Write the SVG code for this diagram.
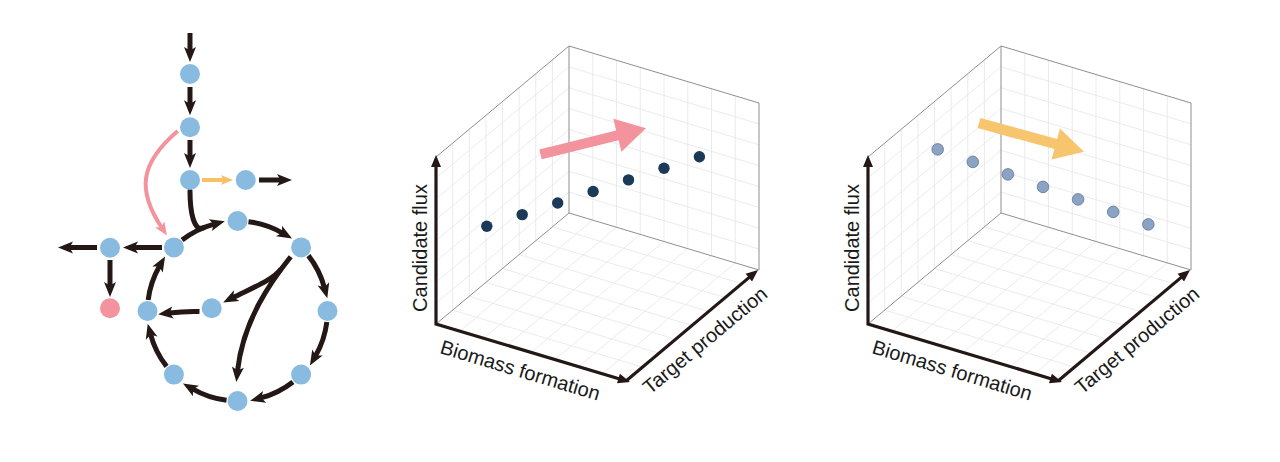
<svg xmlns="http://www.w3.org/2000/svg" xmlns:xlink="http://www.w3.org/1999/xlink" width="1280" height="462" viewBox="0 0 1280 462">
<style>
.node{fill:#88bbdf}
.pnode{fill:#f3939d}
.edge{fill:none;stroke:#231815;stroke-width:5;stroke-linecap:butt;marker-end:url(#ah)}
.oedge{fill:none;stroke:#f8c167;stroke-width:4;marker-end:url(#aho)}
.pedge{fill:none;stroke:#f3939d;stroke-width:4;marker-end:url(#ahp)}
.grid{fill:none;stroke:#e6e6e6;stroke-width:0.8}
.box{fill:none;stroke:#8f8f8f;stroke-width:1}
.axis{fill:none;stroke:#231815;stroke-width:3.2;stroke-linejoin:miter}
.lbl{font-family:"Liberation Sans",Arial,sans-serif;font-size:20px;fill:#1a1a1a}
.dd{fill:#1b3a57}
.ld{fill:#8ca4c4;stroke:#5f7596;stroke-width:0.8}
</style>
<defs>
<marker id="ah" markerUnits="userSpaceOnUse" markerWidth="15" markerHeight="12" refX="4" refY="6" orient="auto" overflow="visible"><path d="M0,0 L15,6 L0,12 L3.5,6 z" fill="#231815"/></marker>
<marker id="aho" markerUnits="userSpaceOnUse" markerWidth="12" markerHeight="10" refX="3" refY="5" orient="auto" overflow="visible"><path d="M0,0 L12,5 L0,10 L2.5,5 z" fill="#f8c167"/></marker>
<marker id="ahp" markerUnits="userSpaceOnUse" markerWidth="13" markerHeight="11" refX="3.5" refY="5.5" orient="auto" overflow="visible"><path d="M0,0 L13,5.5 L0,11 L3,5.5 z" fill="#f3939d"/></marker>
<marker id="axh" markerUnits="userSpaceOnUse" markerWidth="12" markerHeight="10" refX="4" refY="5" orient="auto-start-reverse" overflow="visible"><path d="M0,0 L12,5 L0,10 z" fill="#231815"/></marker>
<g id="plotbase">
<path class="grid" d="M592.75,220.125V53.125 M616.5,227.25V60.25 M640.25,234.375V67.375 M664,241.5V74.5 M687.75,248.625V81.625 M711.5,255.75V88.75 M735.25,262.875V95.875 M569,192.125L759,249.125 M569,171.25L759,228.25 M569,150.375L759,207.375 M569,129.5L759,186.5 M569,108.625L759,165.625 M569,87.75L759,144.75 M569,66.875L759,123.875 M452.625,310.125V143.125 M469.25,296.25V129.25 M485.875,282.375V115.375 M502.5,268.5V101.5 M519.125,254.625V87.625 M535.75,240.75V73.75 M552.375,226.875V59.875 M436,303.125L569,192.125 M436,282.25L569,171.25 M436,261.375L569,150.375 M436,240.5L569,129.5 M436,219.625L569,108.625 M436,198.75L569,87.75 M436,177.875L569,66.875 M459.75,331.125L592.75,220.125 M483.5,338.25L616.5,227.25 M507.25,345.375L640.25,234.375 M531,352.5L664,241.5 M554.75,359.625L687.75,248.625 M578.5,366.75L711.5,255.75 M602.25,373.875L735.25,262.875 M452.625,310.125L642.625,367.125 M469.25,296.25L659.25,353.25 M485.875,282.375L675.875,339.375 M502.5,268.5L692.5,325.5 M519.125,254.625L709.125,311.625 M535.75,240.75L725.75,297.75 M552.375,226.875L742.375,283.875"/>
<path class="box" d="M569,46V213 M436,324L569,213L759,270V103 M436,157L569,46L759,103"/>
<path class="axis" d="M436,163 L436,324 L622.3,379.7" marker-start="url(#axh)" marker-end="url(#axh)"/>
<path class="axis" d="M626,381 L751.9,275.1" marker-end="url(#axh)"/>
<text class="lbl" transform="translate(426.5,248) rotate(-90)" text-anchor="middle">Candidate flux</text>
<text class="lbl" transform="translate(439,353) rotate(16.7)">Biomass formation</text>
<text class="lbl" transform="translate(650,395) rotate(-39.8)">Target production</text>
</g>
</defs>

<g id="network">
<g id="connectors">
<path class="edge" d="M190,33 L190,51"/>
<path class="edge" d="M190,87 L190,104.3"/>
<path class="edge" d="M190,140 L190,157"/>
<path class="oedge" d="M202,180 L224,180"/>
<path class="edge" d="M259,180 L281,180"/>
<path class="pedge" d="M177.7,131 C139.7,163.5 136.95,190.2 161.7,227.5"/>
<path class="edge" style="marker-end:none;stroke-linecap:round" d="M190,191 C190,212 193.9,231.7 203.1,227.9"/>
<path class="edge" d="M182.09,240.08 A90,90 0 0 1 214.21,224.07"/>
<path class="edge" d="M248.47,221.67 A90,90 0 0 1 282.5,233.06"/>
<path class="edge" d="M308.42,255.59 A90,90 0 0 1 324.43,287.71"/>
<path class="edge" d="M326.83,321.97 A90,90 0 0 1 315.44,356"/>
<path class="edge" d="M292.91,381.92 A90,90 0 0 1 260.79,397.93"/>
<path class="edge" d="M226.53,400.33 A90,90 0 0 1 192.5,388.94"/>
<path class="edge" d="M166.58,366.41 A90,90 0 0 1 150.57,334.29"/>
<path class="edge" d="M148.18,300.03 A90,90 0 0 1 159.56,266"/>
<path class="edge" d="M290.7,256.7 C272,280 243,320 237.5,371"/>
<path class="edge" d="M281,269 C273,280 252,288 233,297.5"/>
<path class="edge" d="M199.5,311.5 Q185,311 169,313"/>
<path class="edge" d="M162,247.5 L134,247.5"/>
<path class="edge" d="M97,247.5 L69,247.5"/>
<path class="edge" d="M110,260 L110,286"/>
</g>
<g id="n1"><circle class="node" cx="190" cy="74" r="10"/></g>
<g id="n2"><circle class="node" cx="190" cy="127.3" r="10"/></g>
<g id="n3"><circle class="node" cx="190" cy="180" r="10"/></g>
<g id="n4"><circle class="node" cx="245.7" cy="180" r="10"/></g>
<g id="nA"><circle class="node" cx="237.5" cy="221" r="10"/></g>
<g id="nB"><circle class="node" cx="301.1" cy="247.4" r="10"/></g>
<g id="nC"><circle class="node" cx="327.5" cy="311" r="10"/></g>
<g id="nD"><circle class="node" cx="301.1" cy="374.6" r="10"/></g>
<g id="nE"><circle class="node" cx="237.5" cy="401" r="10"/></g>
<g id="nF"><circle class="node" cx="173.9" cy="374.6" r="10"/></g>
<g id="nG"><circle class="node" cx="147.5" cy="311" r="10"/></g>
<g id="nH"><circle class="node" cx="173.9" cy="247.4" r="10"/></g>
<g id="nI"><circle class="node" cx="211.7" cy="308.3" r="10"/></g>
<g id="nJ"><circle class="node" cx="110" cy="247.7" r="10"/></g>
<g id="nK"><circle class="pnode" cx="110" cy="308.3" r="10"/></g>
</g>

<g id="plot1">
<use xlink:href="#plotbase" href="#plotbase"/>
<polygon fill="#f3939d" points="539.3,149.5 616.2,130.5 613.3,118.8 646,128.3 621.5,151.8 618.6,140.2 541.7,159.2"/>
<circle class="dd" cx="486.8" cy="226.2" r="5.7"/>
<circle class="dd" cx="522.2" cy="214.6" r="5.7"/>
<circle class="dd" cx="557.7" cy="203" r="5.7"/>
<circle class="dd" cx="593.1" cy="191.5" r="5.7"/>
<circle class="dd" cx="628.5" cy="179.9" r="5.7"/>
<circle class="dd" cx="664" cy="168.3" r="5.7"/>
<circle class="dd" cx="699.4" cy="156.7" r="5.7"/>
</g>

<g id="plot2">
<use xlink:href="#plotbase" href="#plotbase" transform="translate(432,0)"/>
<polygon fill="#f8c56f" points="980.4,117.9 1057.1,138.9 1060,128.5 1084,151.7 1051.5,159.4 1054.4,149.1 977.6,128.1"/>
<circle class="ld" cx="937.7" cy="149.4" r="5.8"/>
<circle class="ld" cx="972.8" cy="161.9" r="5.8"/>
<circle class="ld" cx="1007.9" cy="174.4" r="5.8"/>
<circle class="ld" cx="1043" cy="186.9" r="5.8"/>
<circle class="ld" cx="1078.1" cy="199.4" r="5.8"/>
<circle class="ld" cx="1113.2" cy="211.9" r="5.8"/>
<circle class="ld" cx="1148.3" cy="224.4" r="5.8"/>
</g>
</svg>
